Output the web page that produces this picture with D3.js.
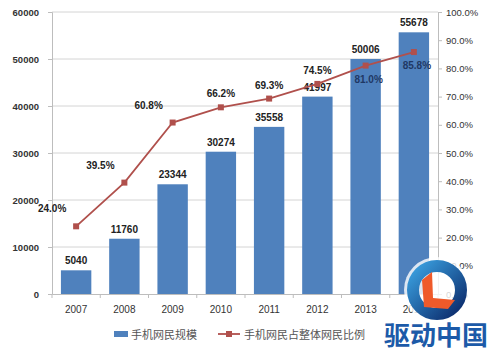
<!DOCTYPE html>
<html>
<head>
<meta charset="utf-8">
<script src="https://cdn.jsdelivr.net/npm/d3@7"></script>
<style>
  body { margin: 0; background: #fff; }
  svg { display: block; font-family: "Liberation Sans", "Noto Sans CJK SC", sans-serif; }
</style>
</head>
<body>
<svg id="chart"></svg>
<script>
// data
const years = ["2007", "2008", "2009", "2010", "2011", "2012", "2013", "2014"];
const users = [5040, 11760, 23344, 30274, 35558, 41997, 50006, 55678];
const ratio = [24.0, 39.5, 60.8, 66.2, 69.3, 74.5, 81.0, 85.8];
const ratioLabelPos = ["left", "left", "left", "above", "above", "above", "below", "below"];
const leftTicks = [0, 10000, 20000, 30000, 40000, 50000, 60000];
const rightTicks = [0, 10, 20, 30, 40, 50, 60, 70, 80, 90, 100];
const seriesNames = ["手机网民规模", "手机网民占整体网民比例"];

const width = 499, height = 351;
const margin = {top: 12, right: 61, bottom: 57, left: 52};
const barColor = "#4f81bd", lineColor = "#b0504c";

const svg = d3.select("#chart").attr("width", width).attr("height", height);

const x = d3.scaleBand(years, [margin.left, width - margin.right]).paddingInner(0.37).paddingOuter(0.185);
const y = d3.scaleLinear([0, 60000], [height - margin.bottom, margin.top]);
const y2 = d3.scaleLinear([0, 100], [height - margin.bottom, margin.top]);

// grid
svg.append("g")
  .selectAll("line")
  .data(leftTicks.slice(1))
  .join("line")
    .attr("x1", margin.left).attr("x2", width - margin.right)
    .attr("y1", d => y(d)).attr("y2", d => y(d))
    .attr("stroke", "#d4d4d4").attr("stroke-width", 1);

// left axis
const gl = svg.append("g")
  .attr("transform", `translate(${margin.left},0)`)
  .call(d3.axisLeft(y).tickValues(leftTicks).tickSize(4).tickPadding(9).tickFormat(d3.format("d")));
gl.select(".domain").attr("stroke", "#bdbdbd");
gl.selectAll(".tick line").attr("stroke", "#bdbdbd");
gl.selectAll("text").attr("font-size", 9.5).attr("font-weight", "bold").attr("fill", "#333");

// right axis
const gr = svg.append("g")
  .attr("transform", `translate(${width - margin.right},0)`)
  .call(d3.axisRight(y2).tickValues(rightTicks).tickSize(4).tickPadding(4).tickFormat(d => d.toFixed(1) + "%"));
gr.select(".domain").attr("stroke", "#bdbdbd");
gr.selectAll(".tick line").attr("stroke", "#bdbdbd");
gr.selectAll("text").attr("font-size", 9.5).attr("fill", "#333");

// bottom axis
const gb = svg.append("g")
  .attr("transform", `translate(0,${height - margin.bottom})`)
  .call(d3.axisBottom(x).tickSize(0).tickPadding(12));
gb.select(".domain").attr("stroke", "#bdbdbd");
gb.selectAll("text").attr("font-size", 10).attr("fill", "#333");
gb.selectAll(".sep")
  .data(d3.range(years.length + 1))
  .join("line")
    .attr("class", "sep")
    .attr("x1", i => margin.left + i * x.step()).attr("x2", i => margin.left + i * x.step())
    .attr("y1", 0).attr("y2", 4)
    .attr("stroke", "#bdbdbd");

// bars
svg.append("g")
  .selectAll("rect")
  .data(users)
  .join("rect")
    .attr("x", (d, i) => x(years[i]))
    .attr("y", d => y(d))
    .attr("width", x.bandwidth())
    .attr("height", d => y(0) - y(d))
    .attr("fill", barColor);

svg.append("g")
  .selectAll("text")
  .data(users)
  .join("text")
    .attr("x", (d, i) => x(years[i]) + x.bandwidth() / 2)
    .attr("y", d => y(d) - 6)
    .attr("text-anchor", "middle")
    .attr("font-size", 10).attr("font-weight", "bold").attr("fill", "#222")
    .text(d => d);

// line
const cx = (d, i) => x(years[i]) + x.bandwidth() / 2;
svg.append("path")
  .datum(ratio)
  .attr("d", d3.line().x(cx).y(d => y2(d)))
  .attr("fill", "none").attr("stroke", lineColor).attr("stroke-width", 1.8);

svg.append("g")
  .selectAll("rect")
  .data(ratio)
  .join("rect")
    .attr("x", (d, i) => cx(d, i) - 3)
    .attr("y", d => y2(d) - 3)
    .attr("width", 6).attr("height", 6)
    .attr("fill", lineColor);

svg.append("g")
  .selectAll("text")
  .data(ratio)
  .join("text")
    .attr("x", (d, i) => cx(d, i) + ({left: -24, above: 0, below: 3}[ratioLabelPos[i]]))
    .attr("y", (d, i) => y2(d) + ({left: -14, above: -10, below: 17}[ratioLabelPos[i]]))
    .attr("text-anchor", "middle")
    .attr("font-size", 10).attr("font-weight", "bold")
    .attr("fill", (d, i) => ratioLabelPos[i] === "below" ? "#1f3864" : "#222")
    .text(d => d.toFixed(1) + "%");

// legend
const lg = svg.append("g").attr("transform", "translate(114,335)");
lg.append("rect").attr("x", 0).attr("y", -4).attr("width", 14).attr("height", 6).attr("fill", barColor);
lg.append("text").attr("x", 17).attr("y", 4).attr("font-size", 11).attr("fill", "#555").text(seriesNames[0]);
lg.append("line").attr("x1", 104).attr("x2", 126).attr("y1", -1).attr("y2", -1).attr("stroke", lineColor).attr("stroke-width", 1.8);
lg.append("rect").attr("x", 112).attr("y", -4).attr("width", 6).attr("height", 6).attr("fill", lineColor);
lg.append("text").attr("x", 130).attr("y", 4).attr("font-size", 11).attr("fill", "#555").text(seriesNames[1]);

// watermark
const wm = svg.append("g");
const grad = svg.append("defs").append("linearGradient").attr("id", "ring").attr("x1", 0).attr("y1", 0).attr("x2", 1).attr("y2", 1);
grad.append("stop").attr("offset", 0).attr("stop-color", "#3aa0e0");
grad.append("stop").attr("offset", 1).attr("stop-color", "#0b2a6b");
wm.append("circle").attr("cx", 437).attr("cy", 290).attr("r", 33).attr("fill", "#fff").attr("opacity", 0.8);
wm.append("circle").attr("cx", 437).attr("cy", 290).attr("r", 24).attr("fill", "none").attr("stroke", "url(#ring)").attr("stroke-width", 12);
wm.append("path").attr("d", "M422,280 L432,272 L433,298 L455,300 L448,309 L424,307 Z").attr("fill", "#ef5a2a");
wm.append("text").attr("x", 436).attr("y", 345).attr("text-anchor", "middle")
  .attr("font-size", 26).attr("font-weight", "bold").attr("fill", "#1c5aa8")
  .attr("font-family", "Noto Sans CJK SC").text("驱动中国");
</script>
</body>
</html>
